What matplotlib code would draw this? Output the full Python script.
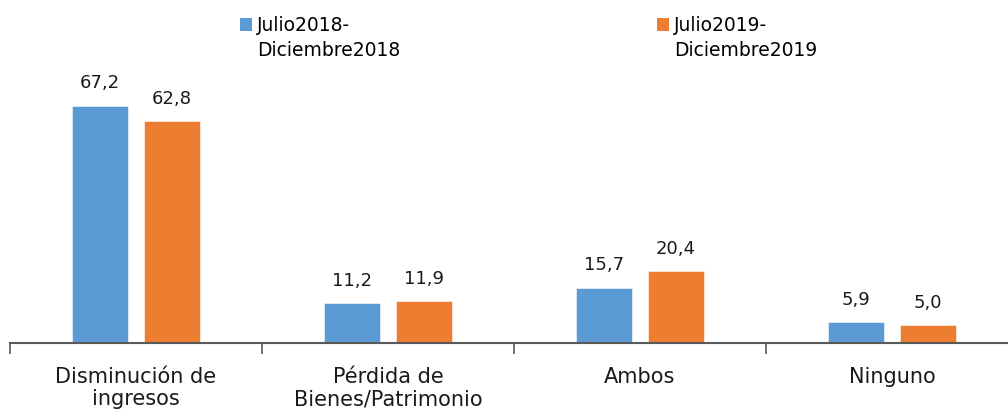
import matplotlib
matplotlib.use('Agg')
import matplotlib.pyplot as plt
import numpy as np

categories = ['Disminución de\ningresos', 'Pérdida de\nBienes/Patrimonio', 'Ambos', 'Ninguno']
series_names = ['Julio2018-\nDiciembre2018', 'Julio2019-\nDiciembre2019']
values_2018 = [67.2, 11.2, 15.7, 5.9]
values_2019 = [62.8, 11.9, 20.4, 5.0]

BLUE = '#5B9BD5'
ORANGE = '#ED7D31'

W, H = 1008, 415
fig = plt.figure(figsize=(W / 100, H / 100), dpi=100)
# axes runs a little past the right edge, as in the cropped original
ax = fig.add_axes([10 / W, 72 / H, 1008 / W, 343 / H])

x = np.arange(len(categories))
bw = 0.222
off = 0.143
b1 = ax.bar(x - off, values_2018, bw, color=BLUE, edgecolor='white', linewidth=0.4,
            label=series_names[0])
b2 = ax.bar(x + off, values_2019, bw, color=ORANGE, edgecolor='white', linewidth=0.4,
            label=series_names[1])

def fmt(v):
    return f'{v:.1f}'.replace('.', ',')

for bars, vals in ((b1, values_2018), (b2, values_2019)):
    for b, v in zip(bars, vals):
        ax.annotate(fmt(v), (b.get_x() + b.get_width() / 2, v),
                    xytext=(0, 12.5), textcoords='offset points',
                    ha='center', va='baseline', fontsize=13, color='#1a1a1a')

ax.set_xlim(-0.5, 3.5)
ax.set_ylim(0, 97.1)

ax.set_xticks(x)
ax.set_xticklabels(categories, fontsize=15, linespacing=1.15, color='#1a1a1a')
ax.tick_params(axis='x', which='major', length=0, pad=17)
ax.set_xticks(np.arange(-0.5, 4, 1), minor=True)
ax.tick_params(axis='x', which='minor', length=8, width=1.2, color='#595959', direction='out')

ax.set_yticks([])
for s in ('top', 'right', 'left'):
    ax.spines[s].set_visible(False)
ax.spines['bottom'].set_color('#595959')
ax.spines['bottom'].set_linewidth(1.5)

leg = fig.legend(handles=[b1, b2], labels=series_names, ncol=2,
                 loc='upper left', bbox_to_anchor=(240 / W, 1 - 16 / H),
                 frameon=False, fontsize=13.5, borderpad=0, borderaxespad=0,
                 handlelength=0.64, handleheight=0.64, handletextpad=0.27,
                 columnspacing=13.7)
for t in leg.get_texts():
    t.set_linespacing(1.4)
for p in leg.get_patches():
    p.set_y(p.get_y() + 10.5)
    p.set_edgecolor('none')

fig.savefig('out.png', dpi=100)
